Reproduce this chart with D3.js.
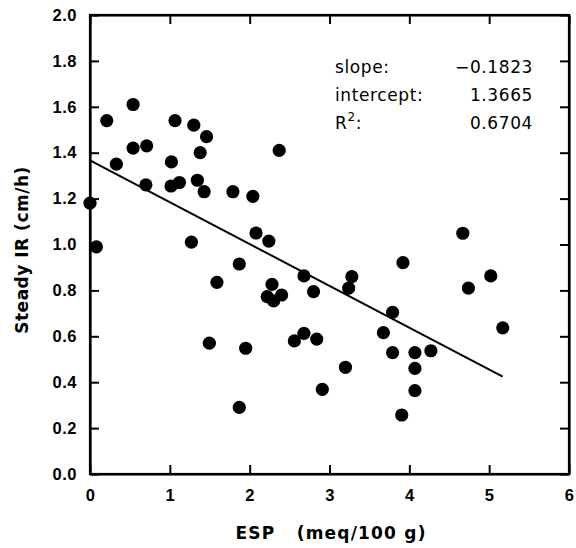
<!DOCTYPE html>
<html>
<head>
<meta charset="utf-8">
<script src="https://cdn.jsdelivr.net/npm/d3@7"></script>
<style>
  body { margin: 0; background: #ffffff; }
  svg { display: block; }
</style>
</head>
<body>
<div id="chart"></div>
<script>
// ESP (meq/100 g) vs steady infiltration rate (cm/h)
const espVals = [0.00, 0.08, 0.21, 0.33, 0.54, 0.54, 0.71, 0.70, 1.02, 1.015,
                 1.065, 1.12, 1.27, 1.30, 1.345, 1.38, 1.43, 1.46, 1.495, 1.59,
                 1.79, 1.87, 1.87, 1.95, 2.04, 2.08, 2.24, 2.28, 2.22, 2.30,
                 2.40, 2.37, 2.56, 2.68, 2.68, 2.80, 2.84, 2.91, 3.20, 3.24,
                 3.28, 3.675, 3.79, 3.79, 3.905, 3.92, 4.07, 4.07, 4.07, 4.27,
                 4.67, 4.74, 5.02, 5.17];
const irVals  = [1.18, 0.99, 1.54, 1.35, 1.61, 1.42, 1.43, 1.26, 1.36, 1.255,
                 1.54, 1.27, 1.01, 1.52, 1.28, 1.40, 1.23, 1.47, 0.57, 0.835,
                 1.23, 0.915, 0.29, 0.548, 1.21, 1.05, 1.015, 0.826, 0.773, 0.754,
                 0.78, 1.41, 0.58, 0.863, 0.613, 0.795, 0.588, 0.369, 0.465, 0.81,
                 0.86, 0.616, 0.704, 0.529, 0.257, 0.921, 0.529, 0.46, 0.363, 0.537,
                 1.049, 0.81, 0.863, 0.637];
const xTicks = [0, 1, 2, 3, 4, 5, 6];
const yTicks = [0, 0.2, 0.4, 0.6, 0.8, 1.0, 1.2, 1.4, 1.6, 1.8, 2.0];
const fitSlope = -0.1823;
const fitIntercept = 1.3665;
const fitXRange = [0, 5.17];
const statLabels = ["slope:", "intercept:", "R"];
const statValues = ["\u22120.1823", "1.3665", "0.6704"];

const W = 576, H = 548;
const m = { left: 90, right: 7, top: 15, bottom: 74 };

const svg = d3.select("#chart").append("svg")
  .attr("width", W).attr("height", H)
  .style("font-family", "'DejaVu Sans', sans-serif");

const x = d3.scaleLinear().domain([0, 6]).range([m.left, W - m.right]);
const y = d3.scaleLinear().domain([0, 2]).range([H - m.bottom, m.top]);

// axes with inward ticks on all four sides
const tickLen = 9;
svg.append("g")
  .attr("transform", "translate(0," + (H - m.bottom) + ")")
  .call(d3.axisBottom(x).tickValues(xTicks).tickSizeInner(-tickLen).tickSizeOuter(0).tickPadding(15)
        .tickFormat(d3.format("d")));
svg.append("g")
  .attr("transform", "translate(0," + m.top + ")")
  .call(d3.axisTop(x).tickValues(xTicks).tickSizeInner(-tickLen).tickSizeOuter(0).tickFormat(""));
svg.append("g")
  .attr("transform", "translate(" + m.left + ",0)")
  .call(d3.axisLeft(y).tickValues(yTicks).tickSizeInner(-tickLen).tickSizeOuter(0).tickPadding(13)
        .tickFormat(d3.format(".1f")));
svg.append("g")
  .attr("transform", "translate(" + (W - m.right) + ",0)")
  .call(d3.axisRight(y).tickValues(yTicks).tickSizeInner(-tickLen).tickSizeOuter(0).tickFormat(""));

svg.selectAll(".domain").attr("stroke", "#000").attr("stroke-width", 2.2);
svg.selectAll(".tick line").attr("stroke", "#000").attr("stroke-width", 2);
svg.selectAll(".tick text")
  .attr("fill", "#000")
  .style("font-size", "16.5px")
  .style("font-weight", "bold")
  .style("letter-spacing", "0.5px");

// frame
svg.append("rect")
  .attr("x", x(0)).attr("y", y(2))
  .attr("width", x(6) - x(0)).attr("height", y(0) - y(2))
  .attr("fill", "none").attr("stroke", "#000").attr("stroke-width", 2.2);

// fitted line
svg.append("line")
  .attr("x1", x(fitXRange[0])).attr("y1", y(fitIntercept + fitSlope * fitXRange[0]))
  .attr("x2", x(fitXRange[1])).attr("y2", y(fitIntercept + fitSlope * fitXRange[1]))
  .attr("stroke", "#000").attr("stroke-width", 2);

// data points
svg.append("g").selectAll("circle")
  .data(d3.zip(espVals, irVals))
  .enter()
    .append("circle")
      .attr("cx", d => x(d[0]))
      .attr("cy", d => y(d[1]))
      .attr("r", 6.6)
      .attr("fill", "#000");

// regression stats
const stats = svg.append("g")
  .style("font-size", "17px")
  .style("letter-spacing", "0.6px")
  .attr("fill", "#000");
statLabels.forEach((t, i) => {
  const ty = 73 + i * 28;
  const lab = stats.append("text").attr("x", 335).attr("y", ty).text(t);
  if (t === "R") {
    lab.append("tspan").attr("dy", -8).style("font-size", "12px").text("2");
    lab.append("tspan").attr("dy", 8).text(":");
  }
  stats.append("text").attr("x", 533).attr("y", ty).attr("text-anchor", "end").text(statValues[i]);
});

// axis titles
svg.append("text")
  .attr("x", 331).attr("y", 539)
  .attr("text-anchor", "middle")
  .style("font-size", "17px").style("font-weight", "bold")
  .style("letter-spacing", "1.2px")
  .attr("xml:space", "preserve")
  .text("ESP   (meq/100 g)");
svg.append("text")
  .attr("transform", "translate(28,250) rotate(-90)")
  .attr("text-anchor", "middle")
  .style("font-size", "17px").style("font-weight", "bold")
  .style("letter-spacing", "0.5px")
  .text("Steady IR (cm/h)");
</script>
</body>
</html>
